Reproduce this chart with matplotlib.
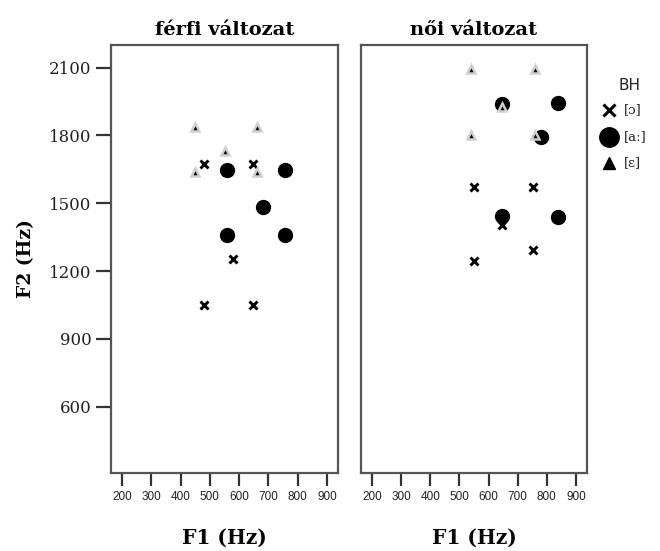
import matplotlib
matplotlib.use("Agg")
import matplotlib.pyplot as plt
from matplotlib.lines import Line2D

# ---- data ----
panels = ["férfi változat", "női változat"]
vowels = ["[ɔ]", "[aː]", "[ɛ]"]

# male panel
m_o_f1 = [480, 648, 578, 480, 648]
m_o_f2 = [1674, 1674, 1254, 1050, 1050]
m_a_f1 = [557, 757, 680, 557, 757]
m_a_f2 = [1647, 1647, 1485, 1360, 1360]
m_e_f1 = [449, 662, 552, 449, 660]
m_e_f2 = [1839, 1839, 1733, 1640, 1640]

# female panel
f_o_f1 = [549, 751, 645, 751, 549]
f_o_f2 = [1571, 1571, 1404, 1293, 1245]
f_a_f1 = [645, 839, 780, 645, 839]
f_a_f2 = [1940, 1942, 1792, 1445, 1441]
f_e_f1 = [539, 761, 539, 761, 645]
f_e_f2 = [2093, 2093, 1802, 1802, 1927]

xticks = [200, 300, 400, 500, 600, 700, 800, 900]
yticks = [600, 900, 1200, 1500, 1800, 2100]

data = [
    ((m_o_f1, m_o_f2), (m_a_f1, m_a_f2), (m_e_f1, m_e_f2)),
    ((f_o_f1, f_o_f2), (f_a_f1, f_a_f2), (f_e_f1, f_e_f2)),
]

fig = plt.figure(figsize=(6.6, 5.51), dpi=100)
W, H = 660, 551
axes_px = [(111, 338), (361, 587)]
top_px, bot_px = 45, 473

serif = "DejaVu Serif"
edge = "#555555"

for i, (x0, x1) in enumerate(axes_px):
    ax = fig.add_axes([x0 / W, 1 - bot_px / H, (x1 - x0) / W, (bot_px - top_px) / H])
    (o, a, e) = data[i]
    ax.plot(o[0], o[1], linestyle="none", marker="x", markersize=6,
            markeredgewidth=2.1, color="black", zorder=3)
    ax.plot(a[0], a[1], linestyle="none", marker="o", markersize=10,
            color="black", zorder=4)
    ax.plot(e[0], e[1], linestyle="none", marker="^", markersize=5.5,
            markerfacecolor="black", markeredgecolor="#cfcfcf",
            markeredgewidth=1.8, zorder=5)
    ax.set_xlim(162, 938)
    ax.set_ylim(307, 2200)
    ax.set_xticks(xticks)
    ax.set_xticklabels([str(t) for t in xticks], fontfamily="Liberation Sans",
                       fontsize=8.5, color="#222222")
    ax.set_yticks(yticks)
    if i == 0:
        ax.set_yticklabels([str(t) for t in yticks], fontfamily=serif,
                           fontsize=12, color="#222222")
        ax.tick_params(axis="y", direction="out", length=11, width=1.6,
                       color="#333333", pad=3)
        ax.set_ylabel("F2 (Hz)", fontfamily=serif, fontweight="bold",
                      fontsize=13.5, labelpad=10)
    else:
        ax.tick_params(axis="y", left=False, labelleft=False)
    ax.tick_params(axis="x", direction="out", length=9, width=1.6,
                   color="#333333", pad=4)
    for s in ax.spines.values():
        s.set_color(edge)
        s.set_linewidth(1.6)
    ax.set_title(panels[i], fontfamily=serif, fontweight="bold",
                 fontsize=14, pad=7)
    ax.set_xlabel("F1 (Hz)", fontfamily=serif, fontweight="bold",
                  fontsize=14.5, labelpad=18)

# legend
fig.text(630 / W, 1 - 85 / H, "BH", fontfamily="DejaVu Sans", fontsize=11,
         ha="center", va="center", color="#222222")
leg_y = [110, 137, 163]
leg_markers = [dict(marker="x", markersize=8.5, markeredgewidth=2.2, color="black"),
               dict(marker="o", markersize=14, color="black"),
               dict(marker="^", markersize=9, color="black")]
for yv, lab, mk in zip(leg_y, vowels, leg_markers):
    fig.add_artist(Line2D([609 / W], [1 - yv / H], linestyle="none",
                          transform=fig.transFigure, **mk))
    fig.text(624 / W, 1 - yv / H, lab, fontfamily=serif, fontsize=9.5,
             ha="left", va="center", color="#222222")

fig.savefig("out.png", dpi=100)
